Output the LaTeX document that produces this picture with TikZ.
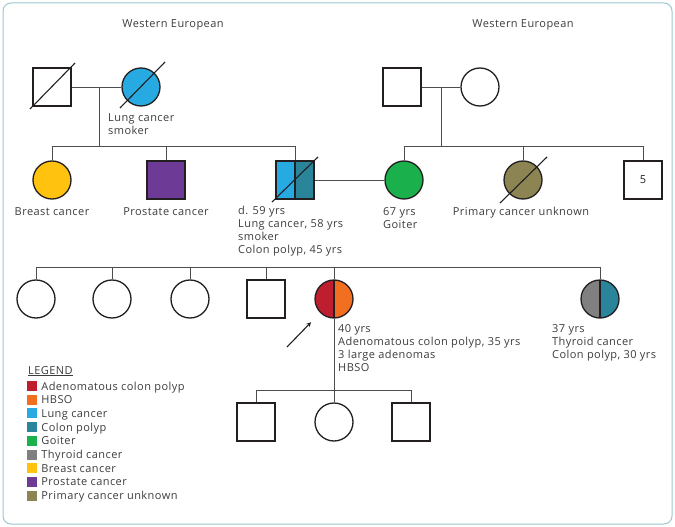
\documentclass[tikz,border=0pt]{standalone}
\usepackage{fontspec}
\setmainfont{Open Sans}[LetterSpace=4]
\usetikzlibrary{positioning, calc}

\definecolor{ink}{HTML}{231F20}
\definecolor{lineg}{HTML}{4D4D4D}
\definecolor{txt}{HTML}{3C3C3C}
\definecolor{frame}{HTML}{9CC8CE}
\definecolor{adenoma}{HTML}{BE1E2D}
\definecolor{hbso}{HTML}{F26F21}
\definecolor{lung}{HTML}{27AAE1}
\definecolor{colon}{HTML}{2A849A}
\definecolor{goiter}{HTML}{1AB04B}
\definecolor{thyroid}{HTML}{808080}
\definecolor{breast}{HTML}{FFC20E}
\definecolor{prostate}{HTML}{6D3A96}
\definecolor{unknown}{HTML}{8C8452}

\tikzset{
  halves/.style 2 args={path picture={
      \fill[#1] (path picture bounding box.south west) rectangle (path picture bounding box.north);
      \fill[#2] (path picture bounding box.south) rectangle (path picture bounding box.north east);
      \draw[ink, line width=1.2pt] (path picture bounding box.south) -- (path picture bounding box.north);}}
}

\begin{document}
\begin{tikzpicture}[x=1pt, y=-1pt,
    male/.style={rectangle, draw=ink, line width=1.3pt, minimum size=38pt, inner sep=0pt},
    female/.style={circle, draw=ink, line width=1.3pt, minimum size=38pt, inner sep=0pt},
    rel/.style={draw=lineg, line width=0.9pt},
    dead/.style={draw=ink, line width=1.1pt},
    lbl/.style={text=txt, font=\fontsize{11}{13}\selectfont, inner sep=0pt, align=left},
    key/.style={minimum size=10pt, inner sep=0pt}]

    \useasboundingbox (0,0) rectangle (675,527);
    \draw[frame, line width=1pt, rounded corners=8pt] (3,3) rectangle (672,524);

    % generation I
    \node[lbl, anchor=base] (eth1) at (173,28) {Western European};
    \node[lbl, anchor=base] (eth2) at (523,28) {Western European};
    \node[male] (gf1) at (52,87) {};
    \node[female, fill=lung] (gm1) at (141,87) {};
    \node[male] (gf2) at (402,87) {};
    \node[female] (gm2) at (480,87) {};
    \node[lbl, anchor=base west] (gm1txt) at (108,134) {Lung cancer\\smoker};

    % generation II
    \node[female, fill=breast] (aunt) at (52,180) {};
    \node[male, fill=prostate] (uncle) at (166,180) {};
    \node[male, halves={lung}{colon}] (father) at (295,180) {};
    \node[female, fill=goiter] (mother) at (404,180) {};
    \node[female, fill=unknown] (aunt2) at (523,180) {};
    \node[male, lbl, text=ink] (uncles) at (643,180) {5};
    \node[lbl, anchor=base] (aunttxt) at (52,215) {Breast cancer};
    \node[lbl, anchor=base] (uncletxt) at (166,215) {Prostate cancer};
    \node[lbl, anchor=base west] (fathertxt) at (238,253) {d. 59 yrs\\Lung cancer, 58 yrs\\smoker\\Colon polyp, 45 yrs};
    \node[lbl, anchor=base west] (mothertxt) at (383,228) {67 yrs\\Goiter};
    \node[lbl, anchor=base] (aunt2txt) at (521,215) {Primary cancer unknown};

    % generation III
    \node[female] (sib1) at (36,299) {};
    \node[female] (sib2) at (112,299) {};
    \node[female] (sib3) at (190,299) {};
    \node[male] (sib4) at (266,299) {};
    \node[female, halves={adenoma}{hbso}] (proband) at (334,299) {};
    \node[female, halves={thyroid}{colon}] (sis) at (600,299) {};
    \node[lbl, anchor=base west] (probandtxt) at (338,371) {40 yrs\\Adenomatous colon polyp, 35 yrs\\3 large adenomas\\HBSO};
    \node[lbl, anchor=base west] (sistxt) at (552,358) {37 yrs\\Thyroid cancer\\Colon polyp, 30 yrs};

    % generation IV
    \node[male] (kid1) at (256,422) {};
    \node[female] (kid2) at (334,422) {};
    \node[male] (kid3) at (411,422) {};

    % deceased
    \draw[dead] ($(gf1)+(-22,22)$) -- ($(gf1)+(23,-24)$);
    \draw[dead] ($(gm1)+(-21,21)$) -- ($(gm1)+(24,-25)$);
    \draw[dead] ($(father)+(-23,22)$) -- ($(father)+(23,-23)$);
    \draw[dead] ($(aunt2)+(-23,23)$) -- ($(aunt2)+(24,-23)$);

    % lines of descent
    \coordinate (m1) at (99,87);
    \coordinate (s1) at (99,146);
    \draw[rel] (gf1) -- (gm1);
    \draw[rel] (m1) -- (s1);
    \draw[rel] (aunt.north |- s1) -- (father.north |- s1);
    \draw[rel] (aunt.north |- s1) -- (aunt.north);
    \draw[rel] (uncle.north |- s1) -- (uncle.north);
    \draw[rel] (father.north |- s1) -- (father.north);

    \coordinate (m2) at (441,87);
    \coordinate (s2) at (441,146);
    \draw[rel] (gf2) -- (gm2);
    \draw[rel] (m2) -- (s2);
    \draw[rel] (mother.north |- s2) -- (uncles.north |- s2);
    \draw[rel] (mother.north |- s2) -- (mother.north);
    \draw[rel] (aunt2.north |- s2) -- (aunt2.north);
    \draw[rel] (uncles.north |- s2) -- (uncles.north);

    \draw[rel] (father) -- (mother);
    \coordinate (s3) at (334,267);
    \draw[rel] (sib1.north |- s3) -- (sis.north |- s3);
    \draw[rel] (sib1.north |- s3) -- (sib1.north);
    \draw[rel] (sib2.north |- s3) -- (sib2.north);
    \draw[rel] (sib3.north |- s3) -- (sib3.north);
    \draw[rel] (sib4.north |- s3) -- (sib4.north);
    \draw[rel] (proband.north |- s3) -- (proband.north);
    \draw[rel] (sis.north |- s3) -- (sis.north);

    \coordinate (s4) at (334,390);
    \draw[rel] (proband.south) -- (s4);
    \draw[rel] (kid1.north |- s4) -- (kid3.north |- s4);
    \draw[rel] (kid1.north |- s4) -- (kid1.north);
    \draw[rel] (kid2.north |- s4) -- (kid2.north);
    \draw[rel] (kid3.north |- s4) -- (kid3.north);

    % proband arrow
    \coordinate (arrowtail) at (287,347);
    \draw[ink, line width=1.1pt, -stealth, shorten >=13pt] (arrowtail) -- (proband.south west);

    % legend
    \node[lbl, anchor=base west] (legend) at (28,374) {\underline{LEGEND}};
    \node[key, fill=adenoma] (k1) at (32,386) {};
    \node[key, fill=hbso, below=3.3pt of k1] (k2) {};
    \node[key, fill=lung, below=3.3pt of k2] (k3) {};
    \node[key, fill=colon, below=3.3pt of k3] (k4) {};
    \node[key, fill=goiter, below=3.3pt of k4] (k5) {};
    \node[key, fill=thyroid, below=3.3pt of k5] (k6) {};
    \node[key, fill=breast, below=3.3pt of k6] (k7) {};
    \node[key, fill=prostate, below=3.3pt of k7] (k8) {};
    \node[key, fill=unknown, below=3.3pt of k8] (k9) {};
    \node[lbl, text height=8pt, text depth=0pt, right=4pt of k1] (t1) {Adenomatous colon polyp};
    \node[lbl, text height=8pt, text depth=0pt, right=4pt of k2] (t2) {HBSO};
    \node[lbl, text height=8pt, text depth=0pt, right=4pt of k3] (t3) {Lung cancer};
    \node[lbl, text height=8pt, text depth=0pt, right=4pt of k4] (t4) {Colon polyp};
    \node[lbl, text height=8pt, text depth=0pt, right=4pt of k5] (t5) {Goiter};
    \node[lbl, text height=8pt, text depth=0pt, right=4pt of k6] (t6) {Thyroid cancer};
    \node[lbl, text height=8pt, text depth=0pt, right=4pt of k7] (t7) {Breast cancer};
    \node[lbl, text height=8pt, text depth=0pt, right=4pt of k8] (t8) {Prostate cancer};
    \node[lbl, text height=8pt, text depth=0pt, right=4pt of k9] (t9) {Primary cancer unknown};
\end{tikzpicture}
\end{document}
